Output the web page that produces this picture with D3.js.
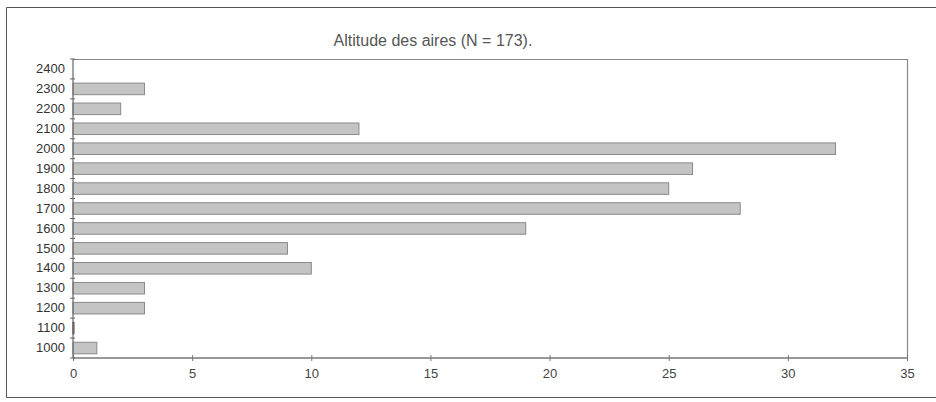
<!DOCTYPE html>
<html>
<head>
<meta charset="utf-8">
<script src="https://cdn.jsdelivr.net/npm/d3@7/dist/d3.min.js"></script>
<style>
  body { margin: 0; background: #fff; }
  svg { display: block; font-family: Arial, "Liberation Sans", sans-serif; }
</style>
</head>
<body>
<svg id="chart" width="936" height="402"></svg>
<script>
// Altitude classes (m) and number of nests in each class
const altitudes = [2400, 2300, 2200, 2100, 2000, 1900, 1800, 1700, 1600, 1500, 1400, 1300, 1200, 1100, 1000];
const counts    = [null, 3, 2, 12, 32, 26, 25, 28, 19, 9, 10, 3, 3, 0, 1];
const xTicks    = [0, 5, 10, 15, 20, 25, 30, 35];
const titleText = "Altitude des aires (N = 173).";

const svg = d3.select("#chart");
const margin = { left: 73, right: 29, top: 59, bottom: 44 };
const W = 936, H = 402;
const innerW = W - margin.left - margin.right;
const innerH = H - margin.top - margin.bottom;
const font = "Arial, 'Liberation Sans', sans-serif";

// outer frame
svg.append("path")
  .attr("d", `M936,7.5 H6.5 V397.5 H936`)
  .attr("fill", "none").attr("stroke", "#555").attr("stroke-width", 1);

svg.append("text")
  .attr("x", 433).attr("y", 46)
  .attr("text-anchor", "middle")
  .attr("font-size", 16)
  .attr("fill", "#555")
  .text(titleText);

const g = svg.append("g").attr("transform", `translate(${margin.left},${margin.top})`);

const x = d3.scaleLinear().domain([0, 35]).range([0, innerW]);
const y = d3.scaleBand().domain(altitudes).range([0, innerH]).paddingInner(0.42).paddingOuter(0.21);

// plot area border (top and right)
g.append("path")
  .attr("d", `M0,0.5 H${innerW + 0.5} V${innerH}`)
  .attr("fill", "none").attr("stroke", "#888").attr("stroke-width", 1.2);

// bars
g.selectAll("rect.bar")
  .data(altitudes.map((a, i) => ({ a, v: counts[i] })).filter(d => d.v !== null))
  .join("rect")
  .attr("class", "bar")
  .attr("x", x(0))
  .attr("y", d => y(d.a))
  .attr("width", d => Math.max(x(d.v) - x(0), 1))
  .attr("height", y.bandwidth())
  .attr("fill", "#c4c4c4")
  .attr("stroke", d => d.v === 0 ? "#555" : "#8a8a8a")
  .attr("stroke-width", 1);

// x axis
const xAxis = g.append("g").attr("transform", `translate(0,${innerH})`)
  .call(d3.axisBottom(x).tickValues(xTicks).tickSize(3).tickPadding(8));
xAxis.select(".domain").attr("stroke", "#777").attr("stroke-width", 1.5).attr("d", `M0,0H${innerW}`);
xAxis.selectAll(".tick line").attr("stroke", "#777").attr("y1", -3).attr("y2", 3);
xAxis.selectAll("text").attr("font-size", 13).attr("fill", "#444").attr("font-family", font);

// y axis with tick marks on class boundaries
const yAxis = g.append("g")
  .call(d3.axisLeft(y).tickSize(0).tickPadding(8));
yAxis.select(".domain").attr("stroke", "#666").attr("stroke-width", 1.2).attr("d", `M0,0V${innerH}`);
yAxis.selectAll("text").attr("font-size", 13).attr("fill", "#333").attr("font-family", font);

const step = y.step();
g.selectAll("line.ytick")
  .data(d3.range(altitudes.length + 1))
  .join("line")
  .attr("class", "ytick")
  .attr("x1", -3).attr("x2", 2)
  .attr("y1", i => i * step).attr("y2", i => i * step)
  .attr("stroke", "#666").attr("stroke-width", 1);
</script>
</body>
</html>
